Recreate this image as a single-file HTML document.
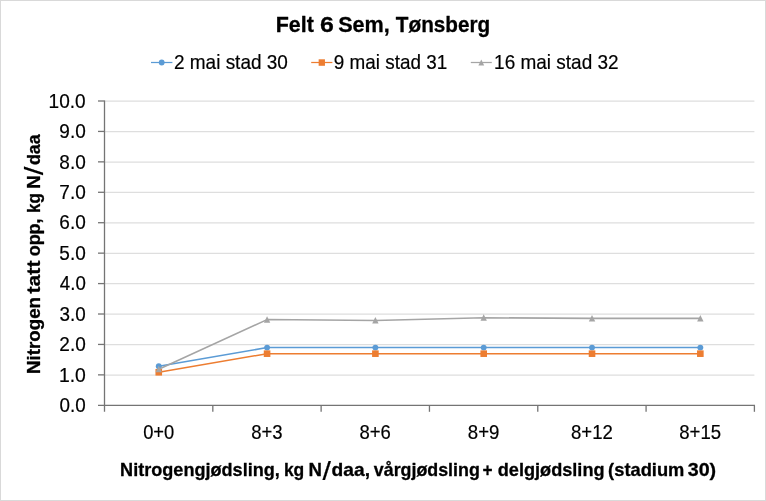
<!DOCTYPE html>
<html lang="no">
<head>
<meta charset="utf-8">
<title>Felt 6 Sem, Tønsberg</title>
<style>
html,body{margin:0;padding:0;background:#fff;}
body{width:766px;height:501px;overflow:hidden;}
svg{display:block;}
svg text{font-family:"Liberation Sans",sans-serif;fill:#000;stroke:#000;stroke-width:0.2px;stroke-linejoin:round;}
svg text[font-weight="700"]{stroke-width:0.3px;}
svg text[font-weight="700"] tspan[font-weight="400"]{stroke-width:0.2px;}
.grid line{stroke:#dedede;stroke-width:1.25;}
.axes line{stroke:#747474;stroke-width:1.3;}
</style>
</head>
<body>
<svg width="766" height="501" viewBox="0 0 766 501" role="img" aria-label="Felt 6 Sem, Tønsberg">
<rect x="0" y="0" width="766" height="501" fill="#fff"/>
<rect x="0.5" y="0.5" width="765" height="500" fill="none" stroke="#d9d9d9" stroke-width="1"/>
<g class="grid">
<line x1="104.5" y1="101.15" x2="754.4" y2="101.15"/>
<line x1="104.5" y1="131.58" x2="754.4" y2="131.58"/>
<line x1="104.5" y1="162.01" x2="754.4" y2="162.01"/>
<line x1="104.5" y1="192.44" x2="754.4" y2="192.44"/>
<line x1="104.5" y1="222.87" x2="754.4" y2="222.87"/>
<line x1="104.5" y1="253.3" x2="754.4" y2="253.3"/>
<line x1="104.5" y1="283.73" x2="754.4" y2="283.73"/>
<line x1="104.5" y1="314.16" x2="754.4" y2="314.16"/>
<line x1="104.5" y1="344.59" x2="754.4" y2="344.59"/>
<line x1="104.5" y1="375.02" x2="754.4" y2="375.02"/>
</g>
<g class="axes">
<line x1="104.5" y1="100.4" x2="104.5" y2="411.8"/>
<line x1="98" y1="405.3" x2="755" y2="405.3"/>
<line x1="98" y1="101" x2="104.5" y2="101"/>
<line x1="98" y1="131.43" x2="104.5" y2="131.43"/>
<line x1="98" y1="161.86" x2="104.5" y2="161.86"/>
<line x1="98" y1="192.29" x2="104.5" y2="192.29"/>
<line x1="98" y1="222.72" x2="104.5" y2="222.72"/>
<line x1="98" y1="253.15" x2="104.5" y2="253.15"/>
<line x1="98" y1="283.58" x2="104.5" y2="283.58"/>
<line x1="98" y1="314.01" x2="104.5" y2="314.01"/>
<line x1="98" y1="344.44" x2="104.5" y2="344.44"/>
<line x1="98" y1="374.87" x2="104.5" y2="374.87"/>
<line x1="212.82" y1="405.3" x2="212.82" y2="411.8"/>
<line x1="321.13" y1="405.3" x2="321.13" y2="411.8"/>
<line x1="429.45" y1="405.3" x2="429.45" y2="411.8"/>
<line x1="537.77" y1="405.3" x2="537.77" y2="411.8"/>
<line x1="646.08" y1="405.3" x2="646.08" y2="411.8"/>
<line x1="754.4" y1="405.3" x2="754.4" y2="411.8"/>
</g>
<g class="series">
<g><polyline points="158.76,366.3 267.08,347.58 375.39,347.58 483.71,347.58 592.02,347.58 700.34,347.58" fill="none" stroke="#5b9bd5" stroke-width="1.55" stroke-linejoin="round" stroke-linecap="round"/>
<circle cx="158.76" cy="366.3" r="2.95" fill="#5b9bd5"/>
<circle cx="267.08" cy="347.58" r="2.95" fill="#5b9bd5"/>
<circle cx="375.39" cy="347.58" r="2.95" fill="#5b9bd5"/>
<circle cx="483.71" cy="347.58" r="2.95" fill="#5b9bd5"/>
<circle cx="592.02" cy="347.58" r="2.95" fill="#5b9bd5"/>
<circle cx="700.34" cy="347.58" r="2.95" fill="#5b9bd5"/>
</g>
<g><polyline points="158.76,372.29 267.08,353.67 375.39,353.67 483.71,353.67 592.02,353.67 700.34,353.67" fill="none" stroke="#ed7d31" stroke-width="1.55" stroke-linejoin="round" stroke-linecap="round"/>
<rect x="155.46" y="368.99" width="6.6" height="6.6" fill="#ed7d31"/>
<rect x="263.78" y="350.37" width="6.6" height="6.6" fill="#ed7d31"/>
<rect x="372.09" y="350.37" width="6.6" height="6.6" fill="#ed7d31"/>
<rect x="480.41" y="350.37" width="6.6" height="6.6" fill="#ed7d31"/>
<rect x="588.73" y="350.37" width="6.6" height="6.6" fill="#ed7d31"/>
<rect x="697.04" y="350.37" width="6.6" height="6.6" fill="#ed7d31"/>
</g>
<g><polyline points="158.76,369.19 267.08,319.59 375.39,320.5 483.71,317.76 592.02,318.37 700.34,318.37" fill="none" stroke="#a5a5a5" stroke-width="1.55" stroke-linejoin="round" stroke-linecap="round"/>
<path d="M158.76 365.79 L161.96 372.29 L155.56 372.29 Z" fill="#a5a5a5"/>
<path d="M267.08 316.19 L270.28 322.69 L263.88 322.69 Z" fill="#a5a5a5"/>
<path d="M375.39 317.1 L378.59 323.6 L372.19 323.6 Z" fill="#a5a5a5"/>
<path d="M483.71 314.36 L486.91 320.86 L480.51 320.86 Z" fill="#a5a5a5"/>
<path d="M592.02 314.97 L595.23 321.47 L588.82 321.47 Z" fill="#a5a5a5"/>
<path d="M700.34 314.97 L703.54 321.47 L697.14 321.47 Z" fill="#a5a5a5"/>
</g>
</g>
<g class="legend-keys">
<line x1="151.0" y1="62.5" x2="172.4" y2="62.5" stroke="#5b9bd5" stroke-width="1.25"/>
<circle cx="161.7" cy="62.5" r="2.9" fill="#5b9bd5"/>
<line x1="311.2" y1="62.5" x2="332.4" y2="62.5" stroke="#ed7d31" stroke-width="1.25"/>
<rect x="318.65" y="59.3" width="6.3" height="6.5" fill="#ed7d31"/>
<line x1="470.8" y1="62.5" x2="491.8" y2="62.5" stroke="#a5a5a5" stroke-width="1.25"/>
<path d="M481.3 59.6 L484.2 65.4 L478.4 65.4 Z" fill="#a5a5a5"/>
</g>
<g class="labels">
<text class="title" font-size="22.6" font-weight="700"><tspan x="275.78" y="32" textLength="38.12" lengthAdjust="spacingAndGlyphs">Felt</tspan> <tspan x="320.07" y="32" textLength="13.84" lengthAdjust="spacingAndGlyphs">6</tspan> <tspan x="338.18" y="32" textLength="51.67" lengthAdjust="spacingAndGlyphs">Sem,</tspan> <tspan x="395.87" y="32" textLength="94.35" lengthAdjust="spacingAndGlyphs">Tønsberg</tspan></text>
<text class="legend" font-size="20.4"><tspan x="173.97" y="69" textLength="113.89" lengthAdjust="spacingAndGlyphs">2 mai stad 30</tspan></text>
<text class="legend" font-size="20.4"><tspan x="333.77" y="69" textLength="113.38" lengthAdjust="spacingAndGlyphs">9 mai stad 31</tspan></text>
<text class="legend" font-size="20.4"><tspan x="494.1" y="69" textLength="124.54" lengthAdjust="spacingAndGlyphs">16 mai stad 32</tspan></text>
<text class="ytick" font-size="20.4"><tspan x="48.6" y="108" textLength="37.04" lengthAdjust="spacingAndGlyphs">10.0</tspan></text>
<text class="ytick" font-size="20.4"><tspan x="59.37" y="138" textLength="26.43" lengthAdjust="spacingAndGlyphs">9.0</tspan></text>
<text class="ytick" font-size="20.4"><tspan x="59.37" y="169" textLength="26.43" lengthAdjust="spacingAndGlyphs">8.0</tspan></text>
<text class="ytick" font-size="20.4"><tspan x="59.37" y="199" textLength="26.43" lengthAdjust="spacingAndGlyphs">7.0</tspan></text>
<text class="ytick" font-size="20.4"><tspan x="59.37" y="229" textLength="26.43" lengthAdjust="spacingAndGlyphs">6.0</tspan></text>
<text class="ytick" font-size="20.4"><tspan x="59.37" y="260" textLength="26.43" lengthAdjust="spacingAndGlyphs">5.0</tspan></text>
<text class="ytick" font-size="20.4"><tspan x="59.84" y="290" textLength="25.94" lengthAdjust="spacingAndGlyphs">4.0</tspan></text>
<text class="ytick" font-size="20.4"><tspan x="59.61" y="321" textLength="26.19" lengthAdjust="spacingAndGlyphs">3.0</tspan></text>
<text class="ytick" font-size="20.4"><tspan x="59.37" y="351" textLength="26.43" lengthAdjust="spacingAndGlyphs">2.0</tspan></text>
<text class="ytick" font-size="20.4"><tspan x="58.88" y="382" textLength="26.94" lengthAdjust="spacingAndGlyphs">1.0</tspan></text>
<text class="ytick" font-size="20.4"><tspan x="59.61" y="412" textLength="26.19" lengthAdjust="spacingAndGlyphs">0.0</tspan></text>
<text class="xtick" font-size="20.4"><tspan x="143.13" y="439" textLength="31.13" lengthAdjust="spacingAndGlyphs">0+0</tspan></text>
<text class="xtick" font-size="20.4"><tspan x="251.22" y="439" textLength="31.37" lengthAdjust="spacingAndGlyphs">8+3</tspan></text>
<text class="xtick" font-size="20.4"><tspan x="359.53" y="439" textLength="31.37" lengthAdjust="spacingAndGlyphs">8+6</tspan></text>
<text class="xtick" font-size="20.4"><tspan x="467.84" y="439" textLength="31.61" lengthAdjust="spacingAndGlyphs">8+9</tspan></text>
<text class="xtick" font-size="20.4"><tspan x="570.96" y="439" textLength="41.87" lengthAdjust="spacingAndGlyphs">8+12</tspan></text>
<text class="xtick" font-size="20.4"><tspan x="679.28" y="439" textLength="41.87" lengthAdjust="spacingAndGlyphs">8+15</tspan></text>
<text class="xtitle" font-size="18.5" font-weight="700"><tspan x="120.08" y="476" textLength="159.75" lengthAdjust="spacingAndGlyphs">Nitrogengjødsling,</tspan> <tspan x="283.92" y="476" textLength="20.34" lengthAdjust="spacingAndGlyphs">kg</tspan> <tspan x="308.64" y="476" textLength="13.44" lengthAdjust="spacingAndGlyphs">N</tspan><tspan x="322.6" y="480.14" textLength="8.44" lengthAdjust="spacingAndGlyphs" font-size="25.3" font-weight="400">/</tspan><tspan x="331.62" y="476" textLength="38.41" lengthAdjust="spacingAndGlyphs">daa,</tspan> <tspan x="373.8" y="476" textLength="106" lengthAdjust="spacingAndGlyphs">vårgjødsling</tspan> <tspan x="482.6" y="476" textLength="10.05" lengthAdjust="spacingAndGlyphs">+</tspan> <tspan x="497.76" y="476" textLength="106.81" lengthAdjust="spacingAndGlyphs">delgjødsling</tspan> <tspan x="608.11" y="476" textLength="76.27" lengthAdjust="spacingAndGlyphs">(stadium</tspan> <tspan x="687.77" y="476" textLength="28.39" lengthAdjust="spacingAndGlyphs">30)</tspan></text>
<text class="ytitle" font-size="18.5" font-weight="700" transform="translate(40 372.7) rotate(-90)"><tspan x="-1.26" y="0" textLength="76.94" lengthAdjust="spacingAndGlyphs">Nitrogen</tspan> <tspan x="79.21" y="0" textLength="33.01" lengthAdjust="spacingAndGlyphs">tatt</tspan> <tspan x="116.37" y="0" textLength="37.89" lengthAdjust="spacingAndGlyphs">opp,</tspan> <tspan x="159.66" y="0" textLength="19.78" lengthAdjust="spacingAndGlyphs">kg</tspan> <tspan x="184.04" y="0" textLength="13.44" lengthAdjust="spacingAndGlyphs">N</tspan><tspan x="197.5" y="2.54" textLength="8.72" lengthAdjust="spacingAndGlyphs" font-size="25.85" font-weight="400">/</tspan><tspan x="207.58" y="0" textLength="30.72" lengthAdjust="spacingAndGlyphs">daa</tspan></text>
</g>
</svg>
</body>
</html>
